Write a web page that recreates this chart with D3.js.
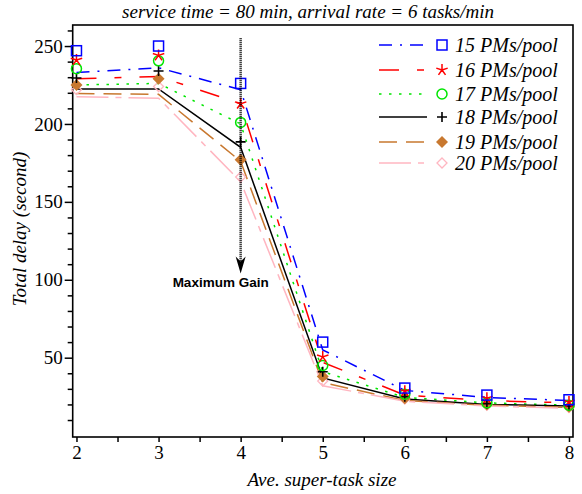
<!DOCTYPE html>
<meta charset="utf-8">
<style>
body { margin: 0; background: #fff; }
</style>
<svg width="582" height="494" font-family="Liberation Serif"></svg>
<script src="https://cdn.jsdelivr.net/npm/d3@7/dist/d3.min.js"></script>
<script>

// task sizes on the x axis
var sizes = [2, 3, 4, 5, 6, 7, 8];

var seriesNames = ["15 PMs/pool", "16 PMs/pool", "17 PMs/pool", "18 PMs/pool", "19 PMs/pool", "20 PMs/pool"];

// markers (simulation points)
var pts15 = [247, 250, 226, 60, 30.5, 26, 23];
var pts16 = [241, 244, 213, 50.5, 28.5, 24, 21.5];
var pts17 = [235.5, 240.5, 201, 45, 26.5, 21, 19.5];
var pts18 = [229.5, 234, 188.5, 41, 25, 20.5, 19];
var pts19 = [225, 229, 177, 38, 24, 20, 18.5];
var pts20 = [222, 224, 166, 35, 23.5, 19.5, 18];

// lines (model curves)
var line15 = [233, 236, 222, 55, 29, 24.5, 22.5];
var line16 = [229, 230.5, 213, 47, 26, 22.5, 21];
var line17 = [225, 226, 200, 41, 24.5, 21, 19.5];
var line18 = [222.5, 222.5, 185, 37, 23.5, 20, 19];
var line19 = [219.5, 219, 176, 34, 22.5, 19.5, 18];
var line20 = [217.5, 216.5, 163, 32, 22, 19, 17.5];

var yMajor = [50, 100, 150, 200, 250];
var xMajor = [2, 3, 4, 5, 6, 7, 8];

var arrowX = 4, arrowTop = 255, arrowTip = 104;

var styles = [
  {color: "#0000ff", dash: "13,8,2,8", mark: "square"},
  {color: "#ff0000", dash: "20,18,7,18", mark: "star"},
  {color: "#00e600", dash: "2.5,7.5", mark: "circle"},
  {color: "#000000", dash: null, mark: "plus"},
  {color: "#c8782f", dash: "18,9", mark: "diamondFill"},
  {color: "#ffb6c1", dash: "32,7,6,7", mark: "diamond"}
];

var allPts = [pts15, pts16, pts17, pts18, pts19, pts20];
var allLines = [line15, line16, line17, line18, line19, line20];

var serif = "Liberation Serif";

var svg = d3.select("svg");

var x = d3.scaleLinear().domain([1.954, 8.049]).range([72.7, 573]);
var y = d3.scaleLinear().domain([-0.9, 263.5]).range([437, 25]);

// axes
svg.append("g").attr("transform", "translate(" + x.range()[0] + ",0)")
  .call(d3.axisLeft(y).tickValues(yMajor).tickSize(8).tickSizeOuter(0).tickPadding(2));
svg.append("g").attr("transform", "translate(" + x.range()[0] + ",0)")
  .call(d3.axisLeft(y).tickValues(d3.range(10, 261, 10).filter(function(v) { return v % 50; }))
    .tickSize(5).tickSizeOuter(0).tickFormat(""));
svg.append("g").attr("transform", "translate(0," + y.range()[0] + ")")
  .call(d3.axisBottom(x).tickValues(xMajor).tickSize(5).tickSizeOuter(0).tickPadding(4).tickFormat(d3.format("d")));
svg.append("g").attr("transform", "translate(0," + y.range()[0] + ")")
  .call(d3.axisBottom(x).tickValues(d3.range(2.5, 8, 1)).tickSize(5).tickSizeOuter(0).tickFormat(""));

svg.selectAll(".domain").remove();
svg.selectAll(".tick line").attr("stroke", "#000").attr("stroke-width", 1.5);
svg.selectAll(".tick text").attr("font-family", serif).attr("font-size", 19).attr("fill", "#000");

// frame
svg.append("rect")
  .attr("x", x.range()[0]).attr("y", y.range()[1])
  .attr("width", x.range()[1] - x.range()[0]).attr("height", y.range()[0] - y.range()[1])
  .attr("fill", "none").attr("stroke", "#000").attr("stroke-width", 1.6);

// lines
var lineGen = d3.line().x(function(d, i) { return x(sizes[i]); }).y(function(d) { return y(d); });
allLines.forEach(function(vals, k) {
  svg.append("path").datum(vals)
    .attr("d", lineGen)
    .attr("fill", "none")
    .attr("stroke", styles[k].color)
    .attr("stroke-width", 1.5)
    .attr("stroke-dasharray", styles[k].dash);
});

function marker(g, type, color) {
  if (type == "square") {
    g.append("rect").attr("x", -5).attr("y", -5).attr("width", 10).attr("height", 10)
      .attr("fill", "none").attr("stroke", color).attr("stroke-width", 1.5);
  } else if (type == "circle") {
    g.append("circle").attr("r", 5).attr("fill", "none").attr("stroke", color).attr("stroke-width", 1.5);
  } else if (type == "plus") {
    g.append("path").attr("d", "M-5,0H5M0,-5V5").attr("stroke", color).attr("stroke-width", 1.6);
  } else if (type == "star") {
    var p = "";
    for (var a = 0; a < 5; a++) {
      var ang = -Math.PI / 2 + a * 2 * Math.PI / 5;
      p += "M0,0L" + (6 * Math.cos(ang)).toFixed(2) + "," + (6 * Math.sin(ang)).toFixed(2);
    }
    g.append("path").attr("d", p).attr("stroke", color).attr("stroke-width", 1.5);
  } else if (type == "diamondFill") {
    g.append("path").attr("d", "M0,-6L6,0L0,6L-6,0Z").attr("fill", color);
  } else if (type == "diamond") {
    g.append("path").attr("d", "M0,-5L5,0L0,5L-5,0Z").attr("fill", "none").attr("stroke", color).attr("stroke-width", 1.3);
  }
}

// markers drawn from last to first so 15 is on top
for (var k = allPts.length - 1; k >= 0; k--) {
  allPts[k].forEach(function(v, i) {
    var g = svg.append("g").attr("transform", "translate(" + x(sizes[i]) + "," + y(v) + ")");
    marker(g, styles[k].mark, styles[k].color);
  });
}

// maximum gain arrow
svg.append("line")
  .attr("x1", x(arrowX)).attr("x2", x(arrowX))
  .attr("y1", y(arrowTop)).attr("y2", y(arrowTip) - 12)
  .attr("stroke", "#000").attr("stroke-width", 2.5).attr("stroke-dasharray", "1,1");
var tx = x(arrowX), ty = y(arrowTip);
svg.append("path")
  .attr("d", "M" + tx + "," + ty + "L" + (tx - 5) + "," + (ty - 17) + "L" + tx + "," + (ty - 12) + "L" + (tx + 5) + "," + (ty - 17) + "Z")
  .attr("fill", "#000");
svg.append("text")
  .attr("x", tx - 20).attr("y", ty + 13)
  .attr("text-anchor", "middle")
  .attr("font-family", "Liberation Sans")
  .attr("font-weight", "bold").attr("font-size", 13.5)
  .text("Maximum Gain");

// legend
var legY = [45, 70, 94, 117, 142, 163];
seriesNames.forEach(function(name, k) {
  var g = svg.append("g").attr("transform", "translate(0," + legY[k] + ")");
  g.append("line").attr("x1", 379).attr("x2", 427).attr("y1", 0).attr("y2", 0)
    .attr("stroke", styles[k].color).attr("stroke-width", 1.5).attr("stroke-dasharray", styles[k].dash);
  var m = g.append("g").attr("transform", "translate(442,0)");
  marker(m, styles[k].mark, styles[k].color);
  g.append("text").attr("x", 455).attr("y", 7)
    .attr("font-family", serif).attr("font-style", "italic")
    .attr("font-size", 20).text(name);
});

// titles
function title(xp, yp, size, txt, rot) {
  return svg.append("text")
    .attr("transform", "translate(" + xp + "," + yp + ")" + (rot ? " rotate(-90)" : ""))
    .attr("text-anchor", "middle")
    .attr("font-family", serif).attr("font-style", "italic")
    .attr("font-size", size)
    .text(txt);
}
title(308, 18, 19, "service time = 80 min, arrival rate = 6 tasks/min");
title(322, 486, 19, "Ave. super-task size");
title(26, 229, 19, "Total delay (second)", true);

</script>
